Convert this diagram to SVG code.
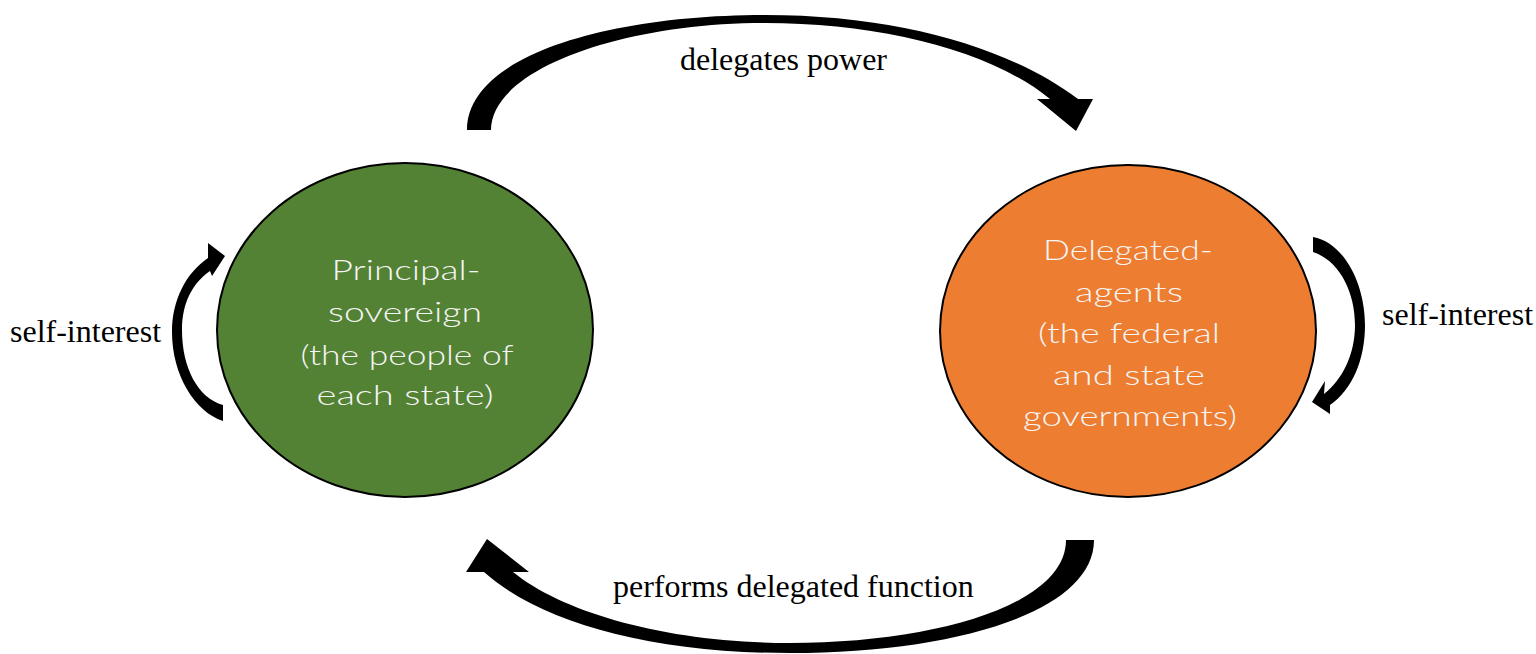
<svg xmlns="http://www.w3.org/2000/svg" width="1536" height="654" viewBox="0 0 1536 654">
  <style>
    .node { stroke: #000; stroke-width: 2; }
    .inner { font-family: Lato, "Noto Sans", "DejaVu Sans", sans-serif; font-weight: 300; font-size: 28px; fill: #F5F5F5; text-anchor: middle; }
    .label { font-family: "Liberation Serif", "Times New Roman", serif; font-size: 32px; fill: #000; }
    .arrow { fill: #000; stroke: none; }
  </style>

  <rect width="1536" height="654" fill="#fff"/>

  <!-- connectors: curved block arrows -->
  <g id="connectors">
    <!-- delegates power (top, left to right) -->
    <path class="arrow" d="M467,130 C467,55 610,15 765,15 C900,15 1010,48 1078,99 L1093,99 L1076,131 L1037,99 L1050,99 C990,50 880,23 765,23 C620,23 491,70 491,130 Z"/>
    <!-- performs delegated function (bottom, right to left) -->
    <path class="arrow" d="M1066,540 L1094,540 C1094,612 955,653 790,653 C650,653 540,622 484,572 L466,572 L487,539 L529,572 L513,572 C565,614 670,643 790,643 C935,643 1066,605 1066,540 Z"/>
    <!-- self-interest loop, principal -->
    <path class="arrow" d="M223,421 L223,405 C198,398 182,368 182,330 C182,302 193,283 210,271 L212,276 L225,256 L208,243 L208,258 C186,273 172,300 172,332 C172,375 195,412 223,421 Z"/>
    <!-- self-interest loop, agents -->
    <path class="arrow" d="M1313,237 C1345,243 1365,285 1365,325 C1365,360 1352,390 1330,405 L1330,414 L1312,402 L1325,381 L1324,394 C1342,380 1355,355 1355,325 C1355,290 1338,260 1313,252 Z"/>
  </g>

  <g id="principal">
    <ellipse class="node" cx="405" cy="330" rx="188" ry="167" fill="#548235"/>
    <text class="inner" x="406" y="280" textLength="149" lengthAdjust="spacingAndGlyphs">Principal-</text>
    <text class="inner" x="405" y="322" textLength="154" lengthAdjust="spacingAndGlyphs">sovereign</text>
    <text class="inner" x="407" y="365" textLength="213" lengthAdjust="spacingAndGlyphs">(the people of</text>
    <text class="inner" x="405" y="405" textLength="177" lengthAdjust="spacingAndGlyphs">each state)</text>
  </g>

  <g id="agents">
    <ellipse class="node" cx="1128" cy="331" rx="188" ry="166" fill="#ED7D31"/>
    <text class="inner" x="1128" y="260" textLength="170" lengthAdjust="spacingAndGlyphs">Delegated-</text>
    <text class="inner" x="1129" y="302" textLength="108" lengthAdjust="spacingAndGlyphs">agents</text>
    <text class="inner" x="1129" y="343" textLength="182" lengthAdjust="spacingAndGlyphs">(the federal</text>
    <text class="inner" x="1129" y="385" textLength="152" lengthAdjust="spacingAndGlyphs">and state</text>
    <text class="inner" x="1130" y="426" textLength="214" lengthAdjust="spacingAndGlyphs">governments)</text>
  </g>

  <g id="labels">
    <text class="label" x="680" y="70">delegates power</text>
    <text class="label" x="613" y="597">performs delegated function</text>
    <text class="label" x="10" y="342">self-interest</text>
    <text class="label" x="1382" y="325">self-interest</text>
  </g>
</svg>
